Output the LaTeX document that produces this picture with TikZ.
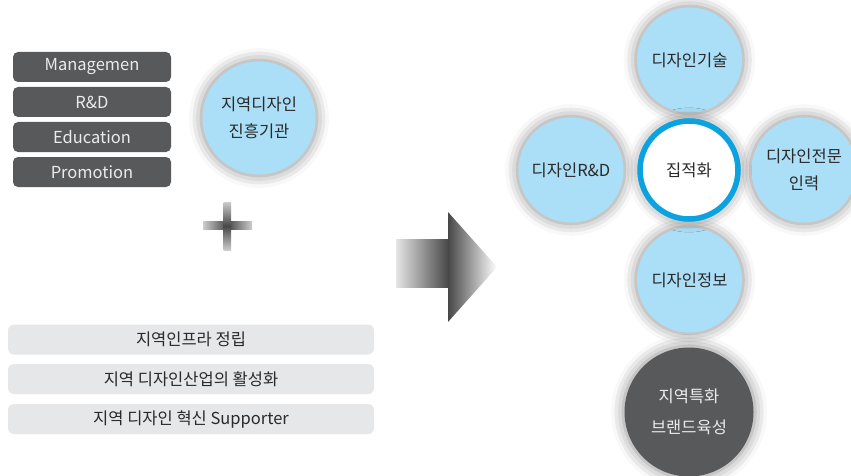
\documentclass[tikz,border=0pt]{standalone}
\usepackage{fontspec}
\setmainfont{Noto Sans CJK KR}
\usepackage{tikz}
\usetikzlibrary{positioning,shadows.blur}

\definecolor{darkbox}{HTML}{58595B}
\definecolor{lightbox}{HTML}{E6E7E8}
\definecolor{skyfill}{HTML}{ABDFF7}
\definecolor{ringblue}{HTML}{0AA3DF}
\definecolor{inktext}{HTML}{2B2A2B}

\begin{document}
\begin{tikzpicture}[x=1pt, y=-1pt, font=\fontsize{16.5}{27}\selectfont,
  glow/.style={blur shadow={shadow xshift=0pt, shadow yshift=0pt, shadow blur radius=12pt, shadow opacity=45, shadow scale=1.02}},
  topic/.style={rectangle, rounded corners=5pt, fill=darkbox, text=white!92!black, minimum width=158pt, minimum height=30pt, inner sep=0pt},
  goal/.style={rectangle, rounded corners=6pt, fill=lightbox, text=inktext, minimum width=366pt, minimum height=30pt, inner sep=0pt},
  bubble/.style={circle, fill=skyfill, text=inktext, minimum size=105pt, inner sep=0pt, align=center, glow}]
\useasboundingbox (0,0) rectangle (851,476);
% left column: fields of the design agency
\foreach \lbl [count=\i] in {Managemen, R\&D, Education, Promotion}
  \node[topic] (field\i) at (92,{67+35*(\i-1)}) {\lbl};
\node[bubble, minimum size=113pt] (agency) at (259,118) {지역디자인\\진흥기관};
% plus sign
\shade[left color=black!20, right color=black!20, middle color=black!72] (203,221.5) rectangle (252,229.5);
\shade[top color=black!20, bottom color=black!20, middle color=black!72] (223.5,202) rectangle (231,250);
% lower boxes
\node[goal] (infra) at (191,339.5) {지역인프라 정립};
\node[goal] (boost) at (191,379) {지역 디자인산업의 활성화};
\node[goal] (support) at (191,419) {지역 디자인 혁신 Supporter};
% big arrow
\shade[left color=black!10, right color=black!72] (396,239) rectangle (448.5,287);
\shade[left color=black!72, right color=white] (448,212) -- (497,267) -- (448,322) -- cycle;
% right cluster
\node[bubble] (tech) at (689.5,60) {디자인기술};
\node[bubble] (rnd) at (571,170) {디자인R\&D};
\node[bubble] (people) at (804,170) {디자인전문\\인력};
\node[bubble] (info) at (689.5,280) {디자인정보};
\node[circle, draw=ringblue, line width=5.5pt, fill=white, text=inktext, minimum size=98pt, inner sep=0pt, glow] (hub) at (689,170) {집적화};
\node[circle, fill=darkbox, text=white!92!black, minimum size=129pt, inner sep=0pt, align=center, glow,
  font=\fontsize{16.5}{31}\selectfont] (brand) at (689,412) {지역특화\\브랜드육성};
\end{tikzpicture}
\end{document}
